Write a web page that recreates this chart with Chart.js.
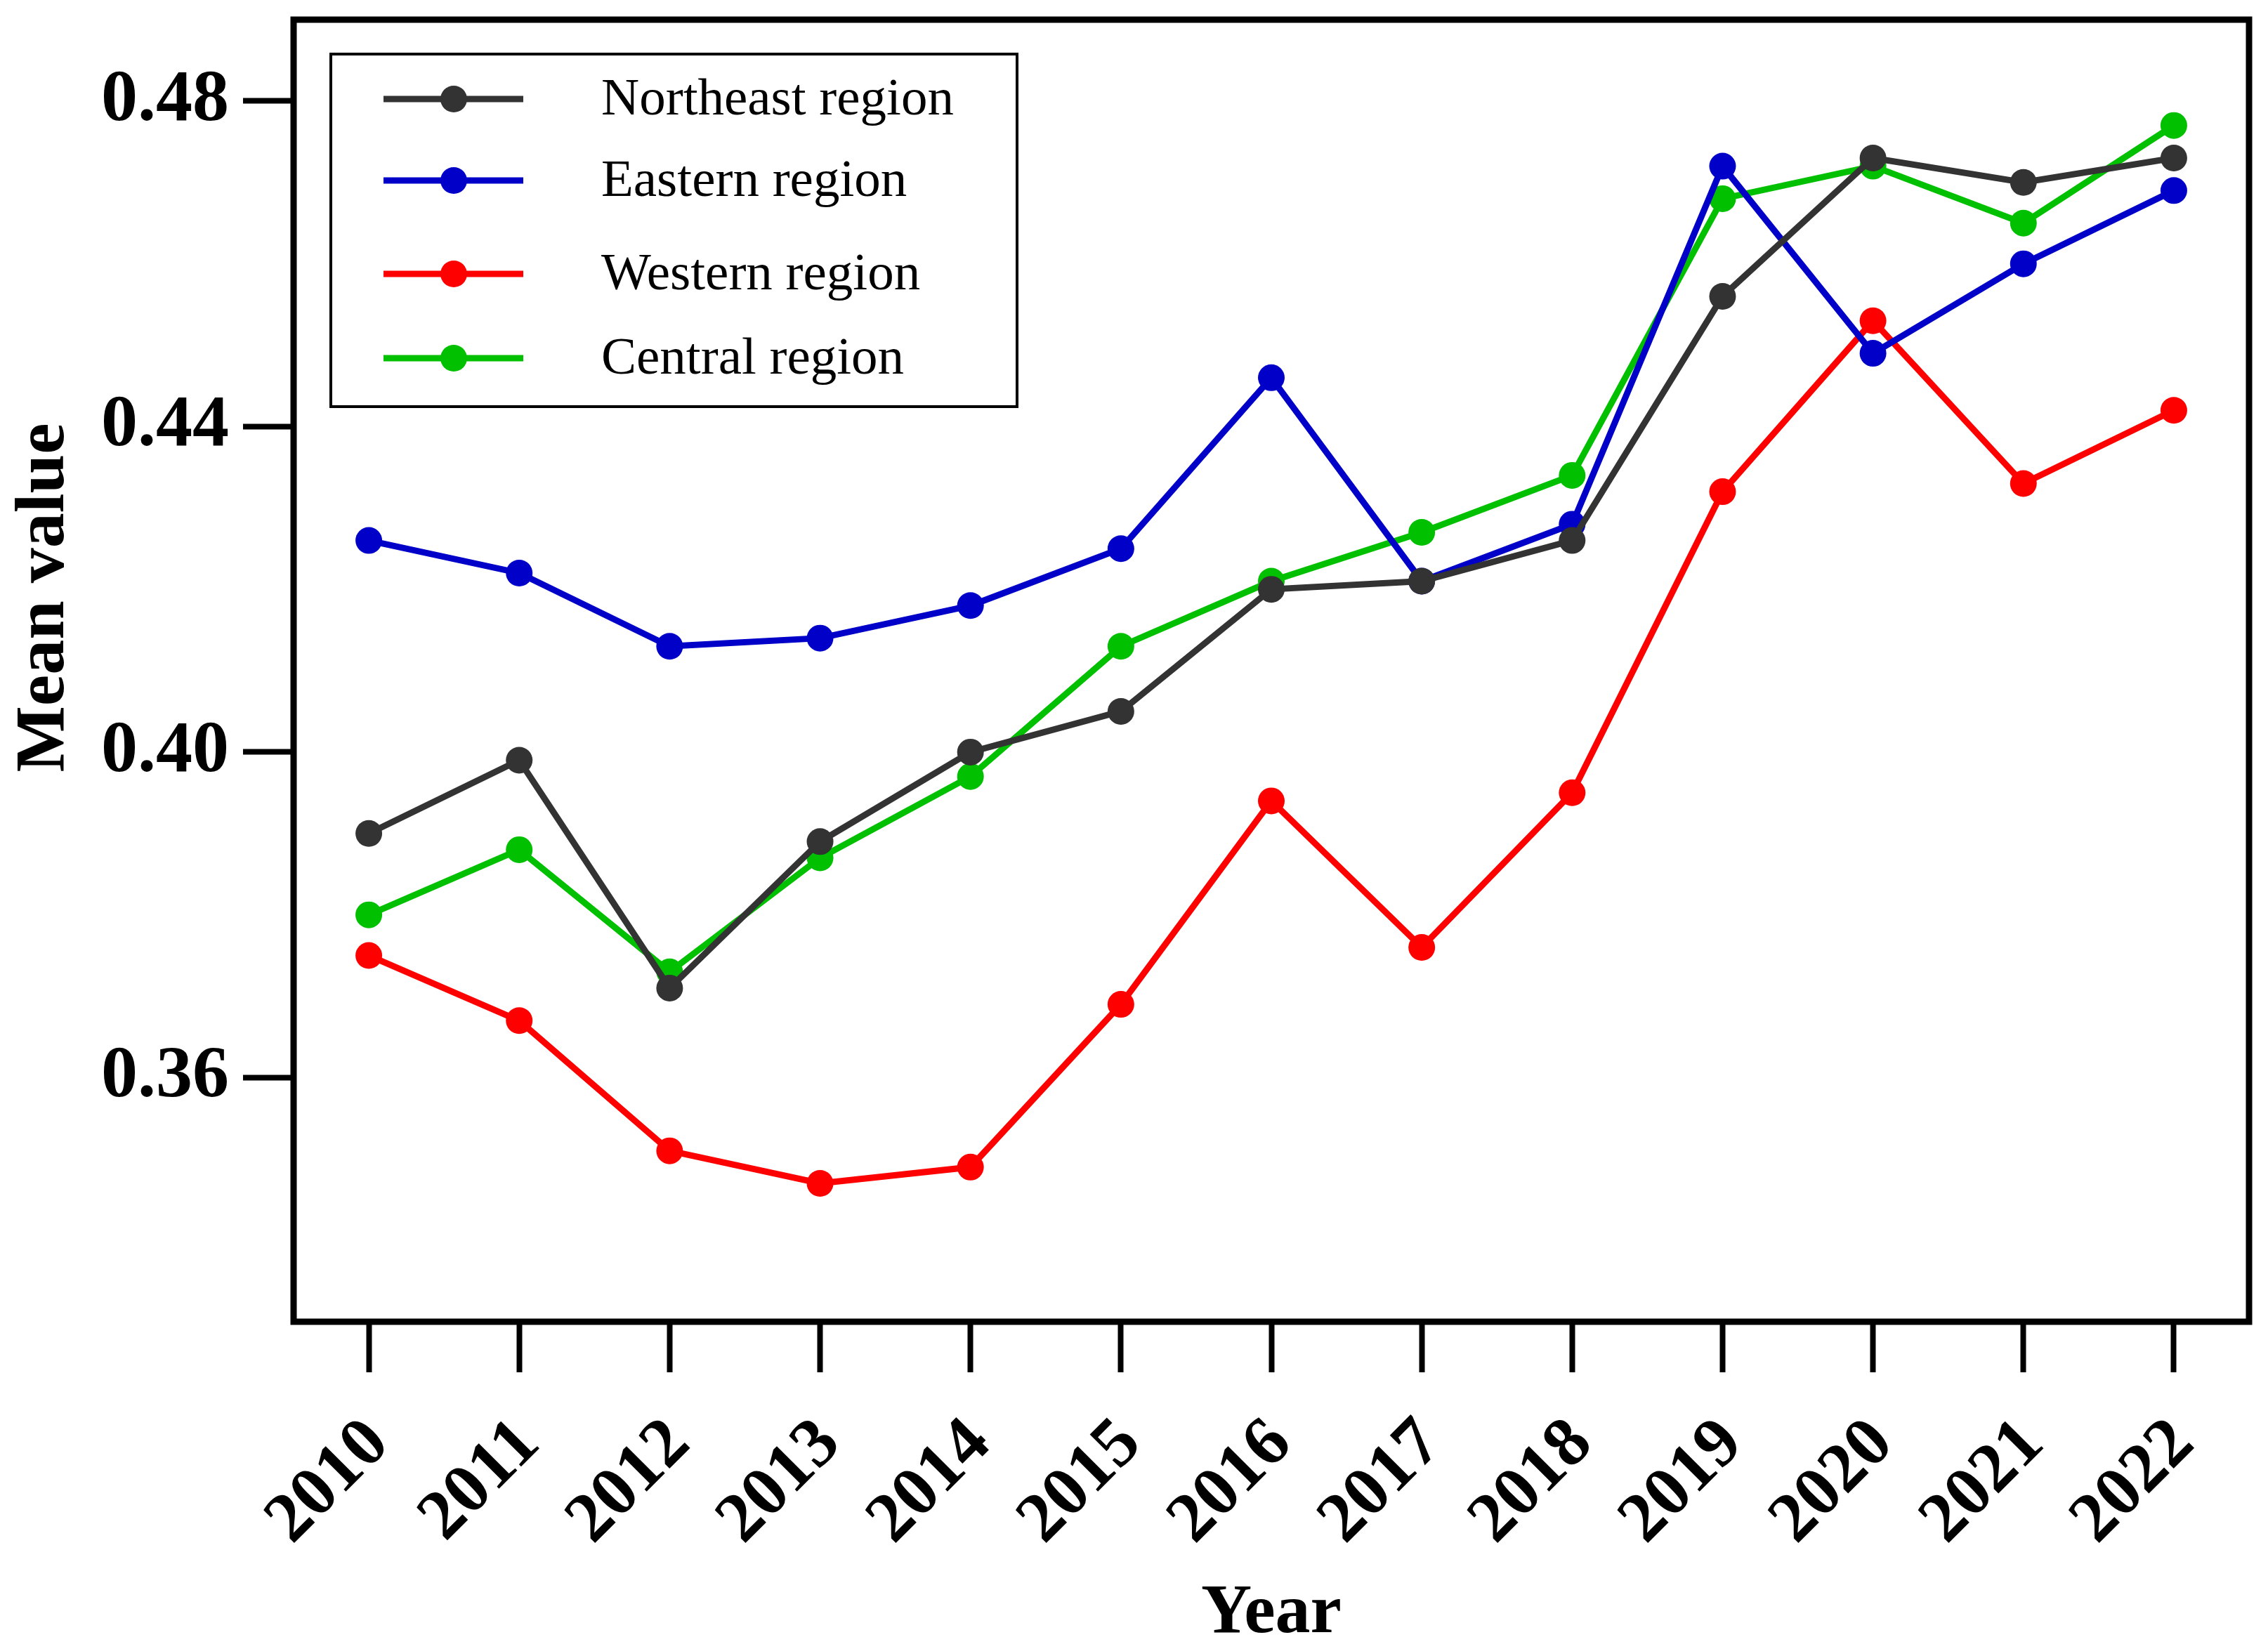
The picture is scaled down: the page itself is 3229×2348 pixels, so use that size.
<!DOCTYPE html>
<html>
<head>
<meta charset="utf-8">
<script src="https://cdn.jsdelivr.net/npm/chart.js@4.4.1/dist/chart.umd.min.js"></script>
<style>
  html, body { margin: 0; padding: 0; background: #fff; }
  canvas { display: block; }
</style>
</head>
<body>
<canvas id="lineChart" width="3229" height="2348"></canvas>
<script>
// Data
var years = ['2010', '2011', '2012', '2013', '2014', '2015', '2016', '2017', '2018', '2019', '2020', '2021', '2022'];
var northeast = [0.390, 0.399, 0.371, 0.389, 0.400, 0.405, 0.420, 0.421, 0.426, 0.456, 0.473, 0.470, 0.473];
var eastern   = [0.426, 0.422, 0.413, 0.414, 0.418, 0.425, 0.446, 0.421, 0.428, 0.472, 0.449, 0.460, 0.469];
var western   = [0.375, 0.367, 0.351, 0.347, 0.349, 0.369, 0.394, 0.376, 0.395, 0.432, 0.453, 0.433, 0.442];
var central   = [0.380, 0.388, 0.373, 0.387, 0.397, 0.413, 0.421, 0.427, 0.434, 0.468, 0.472, 0.465, 0.477];
var seriesNames = ['Northeast region', 'Eastern region', 'Western region', 'Central region'];
var yTicks = [0.36, 0.40, 0.44, 0.48];

var colors = ['#333333', '#0000C8', '#FF0000', '#00C000'];
var serif = '"Liberation Serif", "Times New Roman", serif';

function makeSet(i, values) {
  return {
    label: seriesNames[i],
    data: values,
    borderColor: colors[i],
    backgroundColor: colors[i],
    borderWidth: 9,
    pointRadius: 19,
    pointBorderWidth: 0,
    pointBackgroundColor: colors[i],
    tension: 0
  };
}

// frame around the plot area
var framePlugin = {
  id: 'frame',
  afterDraw: function (chart) {
    var a = chart.chartArea, ctx = chart.ctx;
    ctx.save();
    ctx.strokeStyle = '#000';
    ctx.lineWidth = 9;
    ctx.strokeRect(a.left, a.top, a.right - a.left, a.bottom - a.top);
    ctx.restore();
  }
};

// legend box with line + marker samples
var legendPlugin = {
  id: 'boxLegend',
  afterDraw: function (chart) {
    var ctx = chart.ctx;
    var rows = [141, 257, 390, 510];
    ctx.save();
    ctx.fillStyle = '#fff';
    ctx.fillRect(471, 77, 977, 502);
    ctx.strokeStyle = '#000';
    ctx.lineWidth = 4;
    ctx.strokeRect(471, 77, 977, 502);
    chart.data.datasets.forEach(function (ds, i) {
      var y = rows[i];
      ctx.strokeStyle = ds.borderColor;
      ctx.lineWidth = 9;
      ctx.beginPath();
      ctx.moveTo(546, y);
      ctx.lineTo(745, y);
      ctx.stroke();
      ctx.fillStyle = ds.borderColor;
      ctx.beginPath();
      ctx.arc(646, y, 19, 0, Math.PI * 2);
      ctx.fill();
      ctx.fillStyle = '#000';
      ctx.font = '75px ' + serif;
      ctx.textAlign = 'left';
      ctx.textBaseline = 'middle';
      ctx.fillText(ds.label, 856, y + 2);
    });
    ctx.restore();
  }
};

// y axis title, placed a bit above the middle as in the figure
var yTitlePlugin = {
  id: 'yTitle',
  afterDraw: function (chart) {
    var ctx = chart.ctx;
    ctx.save();
    ctx.translate(64, 851);
    ctx.rotate(-Math.PI / 2);
    ctx.fillStyle = '#000';
    ctx.font = 'bold 100px ' + serif;
    ctx.textAlign = 'center';
    ctx.textBaseline = 'middle';
    ctx.fillText('Mean value', 0, 0);
    ctx.restore();
  }
};

var config = {
  type: 'line',
  data: {
    labels: years,
    datasets: [
      makeSet(0, northeast),
      makeSet(1, eastern),
      makeSet(2, western),
      makeSet(3, central)
    ]
  },
  options: {
    responsive: false,
    animation: false,
    devicePixelRatio: 1,
    layout: { padding: { top: 28, right: 27, bottom: 0, left: 0 } },
    plugins: {
      legend: { display: false },
      tooltip: { enabled: false }
    },
    scales: {
      x: {
        type: 'category',
        offset: true,
        grid: {
          display: true,
          offset: false,
          drawOnChartArea: false,
          drawTicks: true,
          tickLength: 72,
          tickWidth: 8,
          tickColor: '#000'
        },
        border: { display: false },
        ticks: {
          color: '#000',
          font: { family: serif, size: 100, weight: 'bold' },
          minRotation: 45,
          maxRotation: 45,
          padding: 44,
          labelOffset: 14,
          autoSkip: false
        },
        title: {
          display: true,
          text: 'Year',
          color: '#000',
          font: { family: serif, size: 100, weight: 'bold', lineHeight: 1.0 },
          padding: { top: 0, bottom: 0 }
        },
        afterFit: function (scale) {
          scale.height = 466;
          scale.paddingLeft = 0;
          scale.paddingRight = 0;
        }
      },
      y: {
        min: 0.33,
        max: 0.49,
        grid: {
          display: true,
          drawOnChartArea: false,
          drawTicks: true,
          tickLength: 72,
          tickWidth: 8,
          tickColor: '#000'
        },
        border: { display: false },
        ticks: {
          color: '#000',
          font: { family: serif, size: 104, weight: 'bold' },
          padding: 20,
          callback: function (v) { return Number(v).toFixed(2); }
        },
        afterBuildTicks: function (scale) {
          scale.ticks = yTicks.map(function (v) { return { value: v }; });
        },
        afterFit: function (scale) {
          scale.width = 418;
          scale.paddingTop = 0;
          scale.paddingBottom = 0;
        }
      }
    }
  },
  plugins: [framePlugin, legendPlugin, yTitlePlugin]
};

var myChart = new Chart(document.getElementById('lineChart'), config);
</script>
</body>
</html>
